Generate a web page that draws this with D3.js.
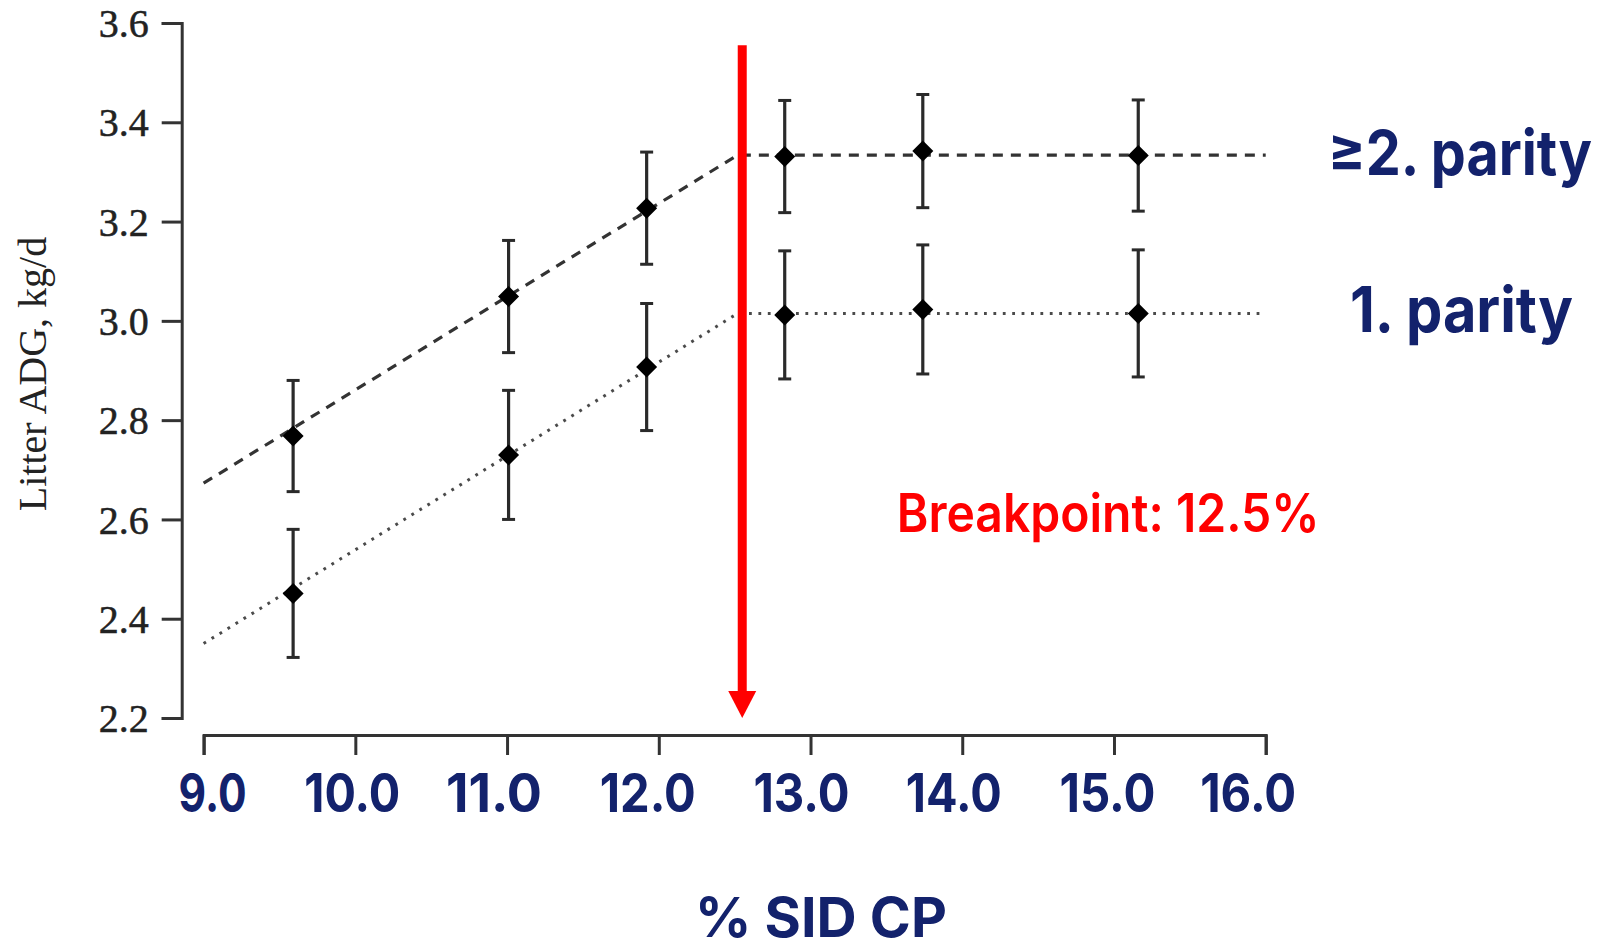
<!DOCTYPE html>
<html>
<head>
<meta charset="utf-8">
<script src="https://cdn.jsdelivr.net/npm/d3@7/dist/d3.min.js"></script>
<style>
  html, body { margin: 0; padding: 0; background: #ffffff; }
  svg { display: block; }
</style>
</head>
<body>
<svg id="chart" width="1602" height="951"></svg>
<script>
// ---------- data ----------
const xTicks = [9, 10, 11, 12, 13, 14, 15, 16];
const yTicks = [2.2, 2.4, 2.6, 2.8, 3.0, 3.2, 3.4, 3.6];
const cpLevels = [9.59, 11.01, 11.92, 12.83, 13.74, 15.16];
const parity2Mean = [2.768, 3.049, 3.227, 3.331, 3.342, 3.333];
const parity2Err = [0.112, 0.113, 0.113, 0.113, 0.114, 0.112];
const parity1Mean = [2.451, 2.730, 2.907, 3.012, 3.023, 3.015];
const parity1Err = [0.129, 0.130, 0.128, 0.129, 0.130, 0.128];
// broken-line fits: [x, y]
const parity2Fit = [[9, 2.673], [12.52, 3.334], [16, 3.334]];
const parity1Fit = [[9, 2.350], [12.52, 3.015], [16, 3.015]];
const breakpointArrowX = 12.55;
const arrowRange = [3.555, 2.20];
const seriesLabels = ["\u22652. parity", "1. parity"];
const breakpointLabel = "Breakpoint: 12.5%";
const xTitle = "% SID CP";
const yTitle = "Litter ADG, kg/d";

// ---------- layout / style ----------
const navy = "#13226c";
const sansFont = "Inter, 'Noto Sans', sans-serif";
const serifFont = "'Liberation Serif', 'Times New Roman', serif";
// horizontal nudge of each x tick label relative to its tick (layout only)
const xLabelNudge = { 9: 9, 10: -3, 11: -13, 12: -11, 13: -9, 14: -8.5, 15: -6.5, 16: -17.5 };

const svg = d3.select("#chart");
const x = d3.scaleLinear().domain([9, 16]).range([203.6, 1265.7]);
const y = d3.scaleLinear().domain([2.2, 3.6]).range([718, 23]);
const axisColor = "#333";

// Place a text so that its left edge is at (left), baseline at (base), width = w.
function fitText(str, left, base, w, size, weight, color, anchorMid) {
  const t = svg.append("text")
    .attr("font-family", sansFont).attr("font-weight", weight)
    .attr("font-size", size).attr("fill", color).text(str);
  const nat = t.node().getComputedTextLength();
  const sx = w / nat;
  const tx = anchorMid ? left - w / 2 : left;
  t.attr("transform", `translate(${tx},${base}) scale(${sx},1)`);
  return t;
}

// y axis
const yAxisG = svg.append("g").attr("transform", "translate(181.7,0)")
  .call(d3.axisLeft(y).tickValues(yTicks).tickSize(20).tickSizeOuter(20).tickFormat(d3.format(".1f")));
yAxisG.selectAll("path, line").attr("stroke", axisColor).attr("stroke-width", 3);
yAxisG.selectAll("text")
  .attr("font-family", serifFont)
  .attr("font-size", 40).attr("fill", "#222")
  .attr("stroke", "#222").attr("stroke-width", 0.5)
  .attr("x", -33).attr("dy", "0.34em");

// x axis
const xAxisG = svg.append("g").attr("transform", "translate(0,735)")
  .call(d3.axisBottom(x).tickValues(xTicks).tickSize(20).tickSizeOuter(20).tickFormat(d3.format(".1f")));
xAxisG.selectAll("path, line").attr("stroke", axisColor).attr("stroke-width", 3);
xAxisG.selectAll("text").remove();
xTicks.forEach(v => {
  const label = d3.format(".1f")(v);
  fitText(label, x(v) + xLabelNudge[v], 812, v < 10 ? 68 : 96, 53, 700, navy, true);
});

// y title
svg.append("text")
  .attr("transform", "translate(46,374) rotate(-90)")
  .attr("text-anchor", "middle")
  .attr("font-family", serifFont)
  .attr("font-size", 40).attr("fill", "#222")
  .text(yTitle);

// x title
fitText(xTitle, 821, 937, 252, 55, 700, navy, true);

// fit lines
const line = d3.line().x(d => x(d[0])).y(d => y(d[1]));
svg.append("path").attr("d", line(parity2Fit)).attr("fill", "none")
  .attr("stroke", "#333").attr("stroke-width", 3.2).attr("stroke-dasharray", "10,8");
svg.append("path").attr("d", line(parity1Fit)).attr("fill", "none")
  .attr("stroke", "#4a4a4a").attr("stroke-width", 3).attr("stroke-dasharray", "2.8,6.6");

// error bars + diamonds
function drawSeries(means, errs) {
  const g = svg.append("g");
  const data = cpLevels.map((c, i) => ({ c, m: means[i], e: errs[i] }));
  g.selectAll("line.eb").data(data).join("line").attr("class", "eb")
    .attr("x1", d => x(d.c)).attr("x2", d => x(d.c))
    .attr("y1", d => y(d.m + d.e)).attr("y2", d => y(d.m - d.e))
    .attr("stroke", "#2a2a2a").attr("stroke-width", 3.2);
  ["t", "b"].forEach(s => {
    g.selectAll("line.cap" + s).data(data).join("line")
      .attr("class", "cap" + s)
      .attr("x1", d => x(d.c) - 6.5).attr("x2", d => x(d.c) + 6.5)
      .attr("y1", d => y(s === "t" ? d.m + d.e : d.m - d.e))
      .attr("y2", d => y(s === "t" ? d.m + d.e : d.m - d.e))
      .attr("stroke", "#2a2a2a").attr("stroke-width", 3);
  });
  g.selectAll("path.dm").data(data).join("path").attr("class", "dm")
    .attr("d", d => {
      const cx = x(d.c), cy = y(d.m), r = 10.5;
      return `M${cx},${cy - r}L${cx + r},${cy}L${cx},${cy + r}L${cx - r},${cy}Z`;
    })
    .attr("fill", "#000");
}
drawSeries(parity2Mean, parity2Err);
drawSeries(parity1Mean, parity1Err);

// red breakpoint arrow
const ax = x(breakpointArrowX);
const tipY = y(arrowRange[1]);
const headH = 27, headW = 28;
svg.append("line").attr("x1", ax).attr("x2", ax)
  .attr("y1", y(arrowRange[0])).attr("y2", tipY - headH + 1)
  .attr("stroke", "#ff0000").attr("stroke-width", 9);
svg.append("path")
  .attr("d", `M${ax - headW / 2},${tipY - headH}L${ax + headW / 2},${tipY - headH}L${ax},${tipY}Z`)
  .attr("fill", "#ff0000");

// breakpoint label
fitText(breakpointLabel, 896.7, 531.7, 423, 53, 600, "#ff0000", false);

// series labels
fitText(seriesLabels[0], 1328, 175, 264, 62, 700, navy, false);
fitText(seriesLabels[1], 1350, 331.7, 223, 63, 700, navy, false);
</script>
</body>
</html>
